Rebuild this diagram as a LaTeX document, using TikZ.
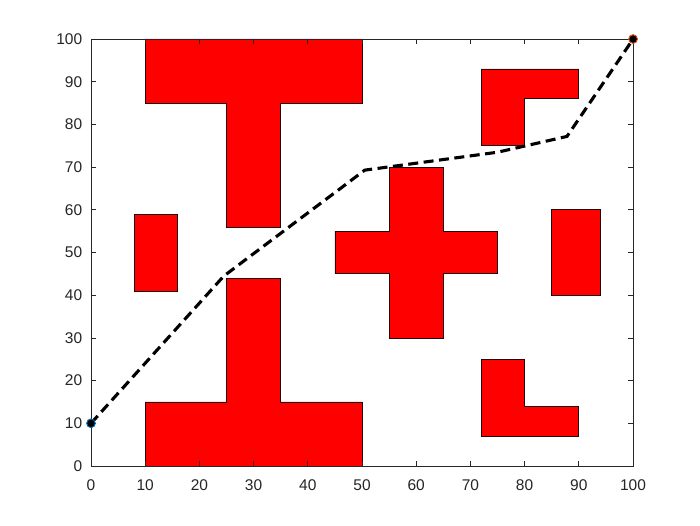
\documentclass[tikz,border=0pt]{standalone}
\usepackage{fontspec}
\setmainfont{Liberation Sans}
\begin{document}
\begin{tikzpicture}[x=1pt,y=1pt,
  obst/.style={fill=red,draw=black!85!red,line width=0.7pt},
  axisline/.style={draw=black!85,line width=0.7pt},
  ticklbl/.style={font=\fontsize{15.5}{18}\selectfont,text=black!85,inner sep=0pt},
  pathline/.style={draw=black,line width=3.1pt,dash pattern=on 10pt off 5.5pt},
  mk/.style={circle,fill=black,inner sep=0pt,minimum size=8.5pt,line width=0.8pt}]
\useasboundingbox[fill=white] (0,0) rectangle (700,525);
\begin{scope}[shift={(91,59)},xscale=5.42,yscale=4.27]
  % obstacles
  \draw[obst] (10,100) -- (50,100) -- (50,85) -- (35,85) -- (35,56) -- (25,56) -- (25,85) -- (10,85) -- cycle;
  \draw[obst] (10,0) -- (50,0) -- (50,15) -- (35,15) -- (35,44) -- (25,44) -- (25,15) -- (10,15) -- cycle;
  \draw[obst] (8,41) rectangle (16,59);
  \draw[obst] (55,30) -- (65,30) -- (65,45) -- (75,45) -- (75,55) -- (65,55) -- (65,70) -- (55,70) -- (55,55) -- (45,55) -- (45,45) -- (55,45) -- cycle;
  \draw[obst] (85,40) rectangle (94,60);
  \draw[obst] (72,75) -- (80,75) -- (80,86) -- (90,86) -- (90,93) -- (72,93) -- cycle;
  \draw[obst] (72,7) -- (90,7) -- (90,14) -- (80,14) -- (80,25) -- (72,25) -- cycle;
  % axes box
  \draw[axisline] (0,0) rectangle (100,100);
  \foreach \v [count=\i] in {0,10,...,100} {
    \draw[axisline] (\v,0) -- ++(0,1.2);
    \draw[axisline] (\v,100) -- ++(0,-1.2);
    \draw[axisline] (0,\v) -- ++(0.95,0);
    \draw[axisline] (100,\v) -- ++(-0.95,0);
    \node[ticklbl,anchor=center] (xl\i) at (\v,-4.6) {\v};
    \node[ticklbl,anchor=east] (yl\i) at (-1.6,\v) {\v};
  }
  % path
  \coordinate (p1) at (24.5,44.5);
  \coordinate (p2) at (50.5,69.3);
  \coordinate (p3) at (75,73.5);
  \coordinate (p4) at (87.8,77.2);
  \node[mk,draw={rgb,255:red,0;green,114;blue,189}] (start) at (0,10) {};
  \node[mk,draw={rgb,255:red,217;green,83;blue,25}] (goal) at (100,100) {};
  \draw[pathline] (start.center) -- (p1) -- (p2) -- (p3) -- (p4) -- (goal.center);
  \node[mk,draw={rgb,255:red,0;green,114;blue,189}] at (start) {};
  \node[mk,draw={rgb,255:red,217;green,83;blue,25}] at (goal) {};
\end{scope}
\end{tikzpicture}
\end{document}
